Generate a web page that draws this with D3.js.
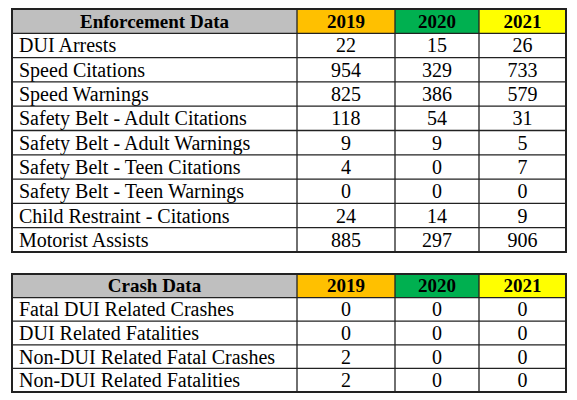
<!DOCTYPE html>
<html><head><meta charset="utf-8">
<script src="https://cdn.jsdelivr.net/npm/d3@7"></script>
<style>body{margin:0;background:#fff}</style>
</head><body>
<svg id="chart"></svg>
<script>
// Data
const years = ['2019', '2020', '2021'];
const yearColors = ['#ffc000', '#00b050', '#ffff00'];

const enforcementRows = ['DUI Arrests', 'Speed Citations', 'Speed Warnings', 'Safety Belt - Adult Citations',
  'Safety Belt - Adult Warnings', 'Safety Belt - Teen Citations', 'Safety Belt - Teen Warnings',
  'Child Restraint - Citations', 'Motorist Assists'];
const enforcement2019 = [22, 954, 825, 118, 9, 4, 0, 24, 885];
const enforcement2020 = [15, 329, 386, 54, 9, 0, 0, 14, 297];
const enforcement2021 = [26, 733, 579, 31, 5, 7, 0, 9, 906];

const crashRows = ['Fatal DUI Related Crashes', 'DUI Related Fatalities', 'Non-DUI Related Fatal Crashes', 'Non-DUI Related Fatalities'];
const crash2019 = [0, 0, 2, 2];
const crash2020 = [0, 0, 0, 0];
const crash2021 = [0, 0, 0, 0];

let width = 577, height = 400;
let svg = d3.select('#chart').attr('width', width).attr('height', height);

// column edges
let colEdges = [12, 297, 395, 479, 566];

let drawTable = (title, rows, series, top, bottom) => {
  let g = svg.append('g');
  let yScale = d3.scaleBand().domain(d3.range(rows.length + 1)).range([top, bottom]);
  let rh = yScale.bandwidth();

  // header
  let headers = [title].concat(years);
  let fills = ['#bfbfbf'].concat(yearColors);
  headers.forEach((h, i) => {
    g.append('rect')
      .attr('x', colEdges[i]).attr('y', yScale(0))
      .attr('width', colEdges[i + 1] - colEdges[i]).attr('height', rh)
      .attr('fill', fills[i]);
    g.append('text')
      .attr('x', (colEdges[i] + colEdges[i + 1]) / 2)
      .attr('y', yScale(0) + rh / 2 + 6.5)
      .attr('text-anchor', 'middle')
      .style('font-family', 'Liberation Serif')
      .style('font-weight', 'bold')
      .style('font-size', '19px')
      .text(h);
  });

  rows.forEach((r, j) => {
    let y = yScale(j + 1);
    g.append('text')
      .attr('x', colEdges[0] + 7).attr('y', y + rh / 2 + 7)
      .style('font-family', 'Liberation Serif').style('font-size', '20px')
      .text(r);
    series.forEach((s, i) => {
      g.append('text')
        .attr('x', (colEdges[i + 1] + colEdges[i + 2]) / 2).attr('y', y + rh / 2 + 7)
        .attr('text-anchor', 'middle')
        .style('font-family', 'Liberation Serif').style('font-size', '20px')
        .text(s[j]);
    });
  });

  // grid lines
  d3.range(rows.length + 2).forEach(k => {
    let y = k <= rows.length ? yScale(k) : bottom;
    g.append('line').attr('x1', colEdges[0]).attr('x2', colEdges[4]).attr('y1', y).attr('y2', y)
      .attr('stroke', '#222').attr('stroke-width', 1.3);
  });
  colEdges.forEach(x => {
    g.append('line').attr('x1', x).attr('x2', x).attr('y1', top).attr('y2', bottom)
      .attr('stroke', '#222').attr('stroke-width', 1.3);
  });
  g.append('rect').attr('x', colEdges[0]).attr('y', top)
    .attr('width', colEdges[4] - colEdges[0]).attr('height', bottom - top)
    .attr('fill', 'none').attr('stroke', '#222').attr('stroke-width', 2);
};

drawTable('Enforcement Data', enforcementRows, [enforcement2019, enforcement2020, enforcement2021], 9, 252);
drawTable('Crash Data', crashRows, [crash2019, crash2020, crash2021], 274, 392);
</script>
</body></html>
